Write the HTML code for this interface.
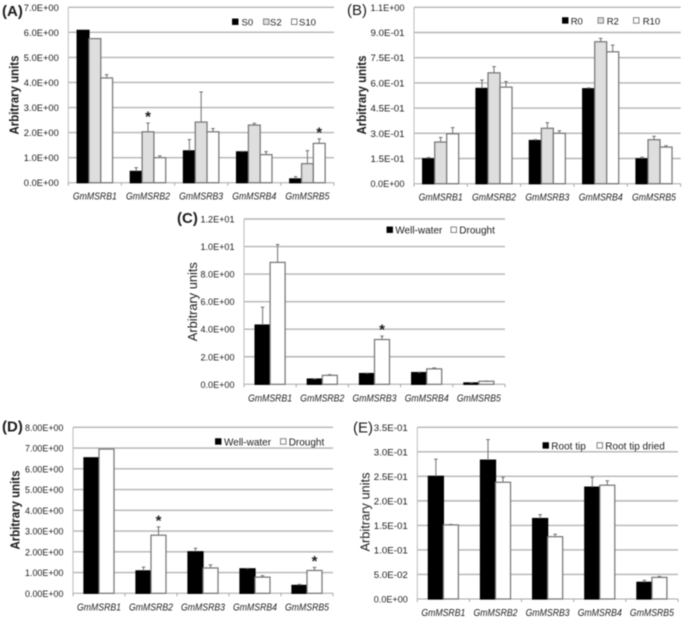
<!DOCTYPE html>
<html lang="en">
<head>
<meta charset="utf-8">
<title>GmMSRB expression charts</title>
<style>
html,body{margin:0;padding:0;background:#fff;width:685px;height:620px;overflow:hidden}
svg{display:block;filter:blur(0.45px)}
text{font-family:"Liberation Sans",sans-serif;fill:#1c1c1c}
</style>
</head>
<body>
<svg id="figure" xmlns="http://www.w3.org/2000/svg" width="685" height="620" viewBox="0 0 685 620"></svg>
<script>
const categories = ['GmMSRB1', 'GmMSRB2', 'GmMSRB3', 'GmMSRB4', 'GmMSRB5'];

const aTickValues = [0, 1, 2, 3, 4, 5, 6, 7];
const aTickLabels = ['0.0E+00', '1.0E+00', '2.0E+00', '3.0E+00', '4.0E+00', '5.0E+00', '6.0E+00', '7.0E+00'];
const aS0 = [6.08, 0.45, 1.27, 1.23, 0.15];
const aS2 = [5.75, 2.03, 2.42, 2.30, 0.76];
const aS10 = [4.18, 1.00, 2.03, 1.12, 1.57];
const aS0Err = [0, 0.15, 0.45, 0.02, 0.09];
const aS2Err = [0, 0.35, 1.20, 0.07, 0.52];
const aS10Err = [0.13, 0.07, 0.13, 0.12, 0.18];

const bTickValues = [0, 0.15, 0.30, 0.45, 0.60, 0.75, 0.90, 1.05];
const bTickLabels = ['0.0E+00', '1.5E-01', '3.0E-01', '4.5E-01', '6.0E-01', '7.5E-01', '9.0E-01', '1.1E+00'];
const bR0 = [0.148, 0.567, 0.257, 0.565, 0.148];
const bR2 = [0.248, 0.660, 0.330, 0.845, 0.262];
const bR10 = [0.297, 0.575, 0.300, 0.785, 0.218];
const bR0Err = [0.008, 0.050, 0.005, 0.005, 0.010];
const bR2Err = [0.027, 0.037, 0.033, 0.020, 0.020];
const bR10Err = [0.037, 0.033, 0.015, 0.040, 0.008];

const cTickValues = [0, 2, 4, 6, 8, 10, 12];
const cTickLabels = ['0.0E+00', '2.0E+00', '4.0E+00', '6.0E+00', '8.0E+00', '1.0E+01', '1.2E+01'];
const cWell = [4.30, 0.38, 0.78, 0.85, 0.10];
const cDrought = [8.85, 0.65, 3.25, 1.12, 0.22];
const cWellErr = [1.30, 0.02, 0.03, 0.03, 0.02];
const cDroughtErr = [1.30, 0.05, 0.25, 0.07, 0.02];

const dTickValues = [0, 1, 2, 3, 4, 5, 6, 7, 8];
const dTickLabels = ['0.00E+00', '1.00E+00', '2.00E+00', '3.00E+00', '4.00E+00', '5.00E+00', '6.00E+00', '7.00E+00', '8.00E+00'];
const dWell = [6.53, 1.08, 2.00, 1.18, 0.38];
const dDrought = [6.95, 2.80, 1.22, 0.78, 1.10];
const dWellErr = [0, 0.18, 0.17, 0.02, 0.05];
const dDroughtErr = [0, 0.40, 0.15, 0.07, 0.15];

const eTickValues = [0, 0.05, 0.10, 0.15, 0.20, 0.25, 0.30, 0.35];
const eTickLabels = ['0.0E+00', '5.0E-02', '1.0E-01', '1.5E-01', '2.0E-01', '2.5E-01', '3.0E-01', '3.5E-01'];
const eRoot = [0.250, 0.283, 0.164, 0.228, 0.034];
const eDried = [0.151, 0.238, 0.127, 0.232, 0.044];
const eRootErr = [0.035, 0.042, 0.008, 0.020, 0.004];
const eDriedErr = [0.001, 0.010, 0.005, 0.009, 0.002];

const NS = 'http://www.w3.org/2000/svg';
const figure = document.getElementById('figure');

function make(parent, tag, attrs, content) {
  const node = document.createElementNS(NS, tag);
  for (const key in attrs) node.setAttribute(key, attrs[key]);
  if (content !== undefined) node.textContent = content;
  parent.appendChild(node);
  return node;
}

function drawPanel(p) {
  const g = make(figure, 'g', {});
  
  

  const maxTick = p.tickValues[p.tickValues.length - 1];
  const yScale = v => p.y0 - (v / maxTick) * (p.y0 - p.yTop);
  const band = (p.right - p.left) / p.categories.length;
  const nSeries = p.series.length;
  const groupCenter = i => p.left + band * (i + 0.5);
  const barLeft = (i, s) => groupCenter(i) - (nSeries * p.barW) / 2 + s * p.barW;

  p.tickValues.forEach((v, i) => {
    if (v !== 0) {
      const grid = make(g, 'line', {x1: p.left, x2: p.right, y1: yScale(v), y2: yScale(v), stroke: '#b4b4b4', 'stroke-width': 1.4});
      
      
    }
    const label = make(g, 'text', {x: p.left - 9.5, y: yScale(v) + 3.5, 'text-anchor': 'end', 'font-size': 9.5, textLength: p.tickLen, lengthAdjust: 'spacingAndGlyphs'}, p.tickLabels[i]);
    
    
  });

  const yAxis = make(g, 'line', {x1: p.left, x2: p.left, y1: p.yTop, y2: p.y0, stroke: '#bdbdbd', 'stroke-width': 1});
  
  

  const xAxis = make(g, 'line', {x1: p.left, x2: p.right, y1: p.y0, y2: p.y0, stroke: '#a8a8a8', 'stroke-width': 1});
  
  

  for (let i = 0; i <= p.categories.length; i++) {
    const tx = p.left + band * i;
    const tick = make(g, 'line', {x1: tx, x2: tx, y1: p.y0, y2: p.y0 + 3, stroke: '#a8a8a8', 'stroke-width': 1});
    
    
  }

  p.series.forEach((series, s) => {
    series.values.forEach((v, i) => {
      const x = barLeft(i, s);
      const top = yScale(v);
      const bar = make(g, 'rect', {
        x: x, y: top, width: p.barW, height: p.y0 - top,
        fill: series.fill,
        stroke: series.fill === '#000000' ? '#000000' : '#777777',
        'stroke-width': 1.25
      });
      
      

      const err = series.errors[i];
      if (err > 0) {
        const cx = x + p.barW / 2;
        const errTop = yScale(v + err);
        const stem = make(g, 'line', {x1: cx, x2: cx, y1: top, y2: errTop, stroke: '#707070', 'stroke-width': 1});
        
        
        const cap = make(g, 'line', {x1: cx - 1.8, x2: cx + 1.8, y1: errTop, y2: errTop, stroke: '#707070', 'stroke-width': 1});
        
        
      }
    });
  });

  p.stars.forEach(st => {
    const series = p.series[st.series];
    const topValue = series.values[st.category] + series.errors[st.category];
    const star = make(g, 'text', {
      x: barLeft(st.category, st.series) + p.barW / 2,
      y: yScale(topValue) - 1.5,
      'text-anchor': 'middle', 'font-size': 15, 'font-weight': 'bold'
    }, '*');
    
    
  });

  p.categories.forEach((name, i) => {
    const label = make(g, 'text', {
      x: groupCenter(i), y: p.y0 + 17, 'text-anchor': 'middle', 'font-size': 10.5,
      'font-style': 'italic', textLength: 44, lengthAdjust: 'spacingAndGlyphs'
    }, name);
    
    
  });

  const title = make(g, 'text', {
    transform: 'translate(' + p.titleX + ',' + p.titleY + ') rotate(-90)',
    'text-anchor': 'middle', 'font-size': 13, 'font-weight': p.titleWeight,
    textLength: 79, lengthAdjust: 'spacingAndGlyphs'
  }, 'Arbitrary units');
  
  

  const panelLabel = make(g, 'text', {x: p.labelX, y: p.labelY, 'font-size': 15, 'font-weight': p.labelWeight}, p.label);
  
  

  p.series.forEach((series, s) => {
    const swatch = make(g, 'rect', {
      x: p.legendSwatchX[s], y: p.legendY - 3, width: 5.5, height: 5.5,
      fill: series.fill,
      stroke: series.fill === '#000000' ? '#000000' : '#777777',
      'stroke-width': 0.9
    });
    
    
    const text = make(g, 'text', {x: p.legendTextX[s], y: p.legendY + 3.6, 'font-size': p.legendSize}, series.name);
    
    
  });
}

const BLACK = '#000000', GREY = '#dedede', WHITE = '#ffffff';

drawPanel({
  label: '(A)', labelX: 2, labelY: 16, labelWeight: 'bold', tickLen: 35,
  left: 68.3, right: 334, y0: 182.7, yTop: 7.3, barW: 11.8,
  titleX: 18.5, titleY: 95, titleWeight: 'bold',
  categories: categories, tickValues: aTickValues, tickLabels: aTickLabels,
  series: [
    {name: 'S0', fill: BLACK, values: aS0, errors: aS0Err},
    {name: 'S2', fill: GREY, values: aS2, errors: aS2Err},
    {name: 'S10', fill: WHITE, values: aS10, errors: aS10Err}
  ],
  stars: [{category: 1, series: 1}, {category: 4, series: 2}],
  legendSwatchX: [232.5, 263.5, 291.5], legendTextX: [241.5, 270, 299], legendY: 22, legendSize: 9.5
});

drawPanel({
  label: '(B)', labelX: 347, labelY: 15, labelWeight: 'normal', tickLen: 34,
  left: 414, right: 680.7, y0: 183.7, yTop: 7.3, barW: 12,
  titleX: 366, titleY: 95, titleWeight: 'bold',
  categories: categories, tickValues: bTickValues, tickLabels: bTickLabels,
  series: [
    {name: 'R0', fill: BLACK, values: bR0, errors: bR0Err},
    {name: 'R2', fill: GREY, values: bR2, errors: bR2Err},
    {name: 'R10', fill: WHITE, values: bR10, errors: bR10Err}
  ],
  stars: [],
  legendSwatchX: [562.5, 598, 633.5], legendTextX: [570.7, 606.7, 642.7], legendY: 20.7, legendSize: 9.5
});

drawPanel({
  label: '(C)', labelX: 177, labelY: 223, labelWeight: 'bold', tickLen: 34,
  left: 244, right: 505, y0: 384.3, yTop: 219, barW: 15,
  titleX: 197, titleY: 301.7, titleWeight: 'normal',
  categories: categories, tickValues: cTickValues, tickLabels: cTickLabels,
  series: [
    {name: 'Well-water', fill: BLACK, values: cWell, errors: cWellErr},
    {name: 'Drought', fill: WHITE, values: cDrought, errors: cDroughtErr}
  ],
  stars: [{category: 2, series: 1}],
  legendSwatchX: [387, 451], legendTextX: [395.3, 459.3], legendY: 230, legendSize: 10
});

drawPanel({
  label: '(D)', labelX: 2, labelY: 431.7, labelWeight: 'bold', tickLen: 38.5,
  left: 73, right: 333, y0: 593.3, yTop: 427.3, barW: 15,
  titleX: 19.5, titleY: 510, titleWeight: 'bold',
  categories: categories, tickValues: dTickValues, tickLabels: dTickLabels,
  series: [
    {name: 'Well-water', fill: BLACK, values: dWell, errors: dWellErr},
    {name: 'Drought', fill: WHITE, values: dDrought, errors: dDroughtErr}
  ],
  stars: [{category: 1, series: 1}, {category: 4, series: 1}],
  legendSwatchX: [215.5, 280.5], legendTextX: [224, 288.7], legendY: 441.7, legendSize: 10
});

drawPanel({
  label: '(E)', labelX: 353, labelY: 432.7, labelWeight: 'normal', tickLen: 34,
  left: 417.3, right: 678, y0: 599, yTop: 427.3, barW: 15,
  titleX: 369.5, titleY: 512, titleWeight: 'normal',
  categories: categories, tickValues: eTickValues, tickLabels: eTickLabels,
  series: [
    {name: 'Root tip', fill: BLACK, values: eRoot, errors: eRootErr},
    {name: 'Root tip dried', fill: WHITE, values: eDried, errors: eDriedErr}
  ],
  stars: [],
  legendSwatchX: [543, 597], legendTextX: [551.3, 605.3], legendY: 445.7, legendSize: 10
});
</script>
</body>
</html>
